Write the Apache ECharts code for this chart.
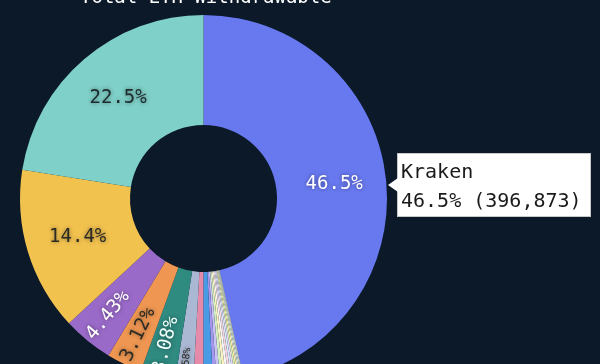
<!DOCTYPE html>
<html>
<head>
<meta charset="utf-8">
<script src="https://cdn.jsdelivr.net/npm/echarts@6/dist/echarts.min.js"></script>
<style>
  html, body { margin: 0; padding: 0; background: #0b1929; }
  #chart { width: 600px; height: 364px; }
</style>
</head>
<body>
<div id="chart"></div>
<script>
// ---- data: ETH withdrawable per entity, largest first ----
const titleText = 'Total ETH Withdrawable';
const names = [
  'Kraken', 'Entity 2', 'Entity 3', 'Entity 4', 'Entity 5', 'Entity 6', 'Entity 7',
  'Entity 8', 'Entity 9', 'Entity 10', 'Entity 11',
  'Entity 12', 'Entity 13', 'Entity 14', 'Entity 15', 'Entity 16', 'Entity 17',
  'Entity 18', 'Entity 19', 'Entity 20', 'Entity 21', 'Entity 22', 'Entity 23'
];
const values = [
  396873, 192040, 122900, 37810, 26630, 26290, 13490,
  7400, 7150, 2800, 2600,
  2430, 2180, 1960, 1870, 1650, 1490, 1420, 1240, 1090, 940, 730, 507
];
const colors = [
  '#6879f0', '#7fd0c8', '#f2c24f', '#9a6ac8', '#ef9752', '#2f8a80', '#aab8d4',
  '#e58aa8', '#4a9be6', '#a596ee', '#c7c4f3',
  '#d6efc0', '#fbf1c2', '#f4f4f4', '#f5d6e0', '#d5e6f6', '#e6d9f4',
  '#d9f0b2', '#fff0a8', '#e2e2e2', '#c9eed8', '#f2e4c0', '#e4eeff'
];

// ---- styling ----
const MONO = '"DejaVu Sans Mono", "Liberation Mono", monospace';
const CENTER = [203.5, 198.5];
const HORIZONTAL = [0, 1, 2];      // wide slices: flat labels
const RADIAL = [3, 4, 5];          // narrow slices: labels along the radius
const RADIAL_SMALL = [6];          // thinnest labelled slice
const ink = {
  0: '#ffffff', 1: '#1d2b2e', 2: '#2b2a24', 3: '#ffffff',
  4: '#2b2a24', 5: '#f2fffb', 6: '#2b2a24'
};

// clockwise from 12 o'clock: the largest slice, then the rest smallest to largest
const order = [0].concat(names.map((_, i) => i).slice(1).reverse());

function pct(p) { return p.percent.toPrecision(3) + '%'; }

const shadow = { textShadowColor: 'rgba(0,0,0,0.45)', textShadowBlur: 4 };

function buildData(labelFor, solid) {
  return order.map(i => ({
    name: names[i],
    value: values[i],
    itemStyle: { color: solid ? colors[i] : 'rgba(0,0,0,0)' },
    label: labelFor(i)
  }));
}

const pieBase = {
  type: 'pie',
  center: CENTER,
  startAngle: 90,
  clockwise: true,
  avoidLabelOverlap: false,
  labelLine: { show: false },
  emphasis: { disabled: true },
  itemStyle: { borderWidth: 0 },
  animation: false
};

const arrow = '<div style="position:absolute;left:-10px;top:50%;margin-top:-7px;width:0;height:0;' +
  'border-top:7px solid transparent;border-bottom:7px solid transparent;border-right:10px solid #ffffff;"></div>';

const option = {
  backgroundColor: '#0b1929',
  animation: false,
  title: {
    text: titleText,
    left: 80,
    top: -11,
    padding: 0,
    textStyle: { color: '#ffffff', fontFamily: MONO, fontSize: 19, fontWeight: 'normal' }
  },
  tooltip: {
    trigger: 'item',
    triggerOn: 'none',
    alwaysShowContent: true,
    transitionDuration: 0,
    position: [397, 153],
    backgroundColor: '#ffffff',
    borderColor: '#c8c8c8',
    borderWidth: 1,
    padding: [3, 8, 2, 3],
    extraCssText: 'box-shadow:none;border-radius:0;',
    formatter: p => arrow +
      '<div style="font-family:' + MONO.replace(/"/g, "'") + ';font-size:20px;line-height:28.5px;color:#1a1a1a;">' +
      p.name + '<br>' + pct(p) + ' (' + p.value.toLocaleString('en-US') + ')</div>'
  },
  series: [
    Object.assign({}, pieBase, {
      name: 'main',
      radius: [73.5, 183.5],
      label: { show: false, position: 'inside' },
      data: buildData(i => HORIZONTAL.includes(i) ? Object.assign({
        show: true, position: 'inside', rotate: 0, formatter: pct,
        color: ink[i], fontFamily: MONO, fontSize: 19
      }, shadow) : { show: false }, true)
    }),
    Object.assign({}, pieBase, {
      name: 'radial',
      radius: [112, 184],
      silent: true,
      tooltip: { show: false },
      label: { show: false, position: 'inside' },
      data: buildData(i => RADIAL.includes(i) ? Object.assign({
        show: true, position: 'inside', rotate: 'radial', formatter: pct,
        color: ink[i], fontFamily: MONO, fontSize: 19
      }, shadow) : { show: false }, false)
    }),
    Object.assign({}, pieBase, {
      name: 'radial-small',
      radius: [140, 184],
      silent: true,
      tooltip: { show: false },
      label: { show: false, position: 'inside' },
      data: buildData(i => RADIAL_SMALL.includes(i) ? Object.assign({
        show: true, position: 'inside', rotate: 'radial', formatter: pct,
        color: ink[i], fontFamily: MONO, fontSize: 10
      }, shadow) : { show: false }, false)
    })
  ]
};

const chart = echarts.init(document.getElementById('chart'));
chart.setOption(option);
chart.dispatchAction({ type: 'showTip', seriesIndex: 0, dataIndex: 0 });
</script>
</body>
</html>
